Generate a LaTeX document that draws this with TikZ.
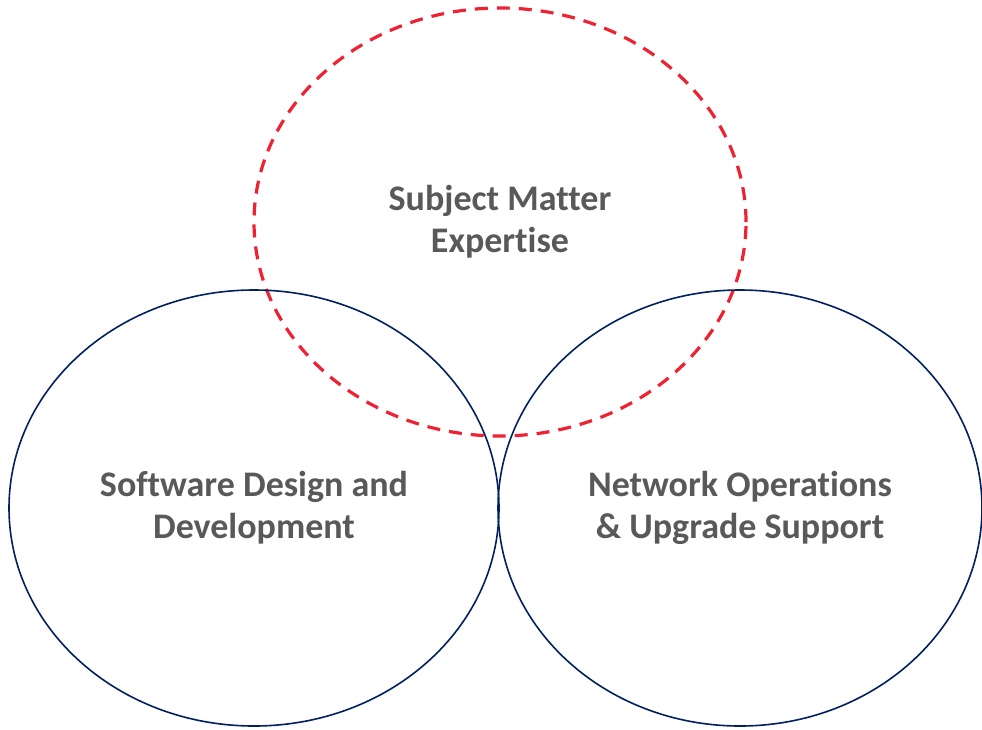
\documentclass[tikz,border=0pt]{standalone}
\usepackage{fontspec}
\setmainfont[Ligatures=NoCommon]{Carlito}
\usetikzlibrary{shapes.geometric}
\definecolor{navy}{HTML}{002060}
\definecolor{vennred}{HTML}{EE2233}
\definecolor{labelgray}{HTML}{595959}
\begin{document}
\begin{tikzpicture}[x=1pt,y=-1pt,
    set/.style={ellipse,draw=navy,line width=1.6pt,inner sep=0pt,
      font=\fontsize{36}{42}\selectfont\bfseries,text=labelgray,align=center}]
                \useasboundingbox (0,0) rectangle (982,729);
                \path (500,222) node[set,draw=vennred,line width=3.2pt,dash pattern=on 13pt off 9pt,
                  minimum width=492pt,minimum height=428pt] (SME) {Subject Matter\\Expertise};
                \path (254,508) node[set,minimum width=490pt,minimum height=436pt] (SW) {Software Design and\\Development};
                \path (740,508) node[set,minimum width=484pt,minimum height=436pt] (NET) {Network Operations\\\& Upgrade Support};
              \end{tikzpicture}
\end{document}
